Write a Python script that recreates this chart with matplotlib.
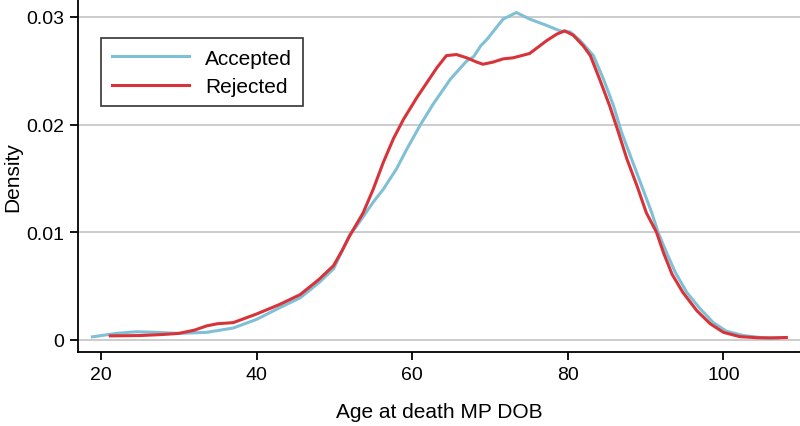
"""
Kernel density of age at death, accepted vs rejected
"""
import matplotlib
matplotlib.use('Agg')
import matplotlib.pyplot as plt

accepted_age = [18.9, 22, 24.5, 27, 30, 33.6, 37, 40, 43, 45.6, 48, 49.9, 52.0, 52.9,
                55.0, 56.3, 58.0, 59.3, 61.0, 62.7, 64.9, 67.0, 67.9, 68.8, 69.6,
                71.7, 73.4, 75.1, 77.3, 79.0, 80.3, 81.6, 83.3, 84.6, 85.9, 86.9,
                88.2, 89.5, 90.8, 91.6, 92.7, 93.8, 95.3, 97.0, 98.7, 100.4, 102.6,
                105, 107]
accepted_density = [0.00028, 0.0006, 0.00075, 0.0007, 0.0006, 0.0007, 0.0011, 0.0019,
                    0.0030, 0.0039, 0.0053, 0.0066, 0.0098, 0.0106, 0.0128, 0.0140,
                    0.0159, 0.0177, 0.0199, 0.0219, 0.0242, 0.0259, 0.0263, 0.0273,
                    0.0279, 0.0298, 0.0304, 0.0298, 0.0292, 0.0287, 0.0286, 0.0278,
                    0.0264, 0.0242, 0.0217, 0.0193, 0.0168, 0.0143, 0.0118, 0.0100,
                    0.0081, 0.0063, 0.0044, 0.0029, 0.0016, 0.0008, 0.0004, 0.0002,
                    0.00015]

rejected_age = [21.2, 25, 28, 30, 32, 33.6, 35, 37, 40, 43, 45.6, 48, 49.9, 51, 52.0,
                53.7, 55.0, 56.3, 57.6, 58.9, 60.6, 61.9, 63.2, 64.4, 65.7, 67.0,
                68.3, 69.1, 70.4, 71.7, 73.0, 75.1, 77.3, 78.6, 79.6, 80.7, 82.0,
                82.9, 84.1, 85.4, 86.5, 87.6, 88.9, 90.1, 91.4, 92.3, 93.4, 94.8,
                96.6, 98.3, 100.0, 102.1, 104.3, 106, 108.1]
rejected_density = [0.00037, 0.0004, 0.0005, 0.0006, 0.0009, 0.0013, 0.0015, 0.0016,
                    0.0024, 0.0033, 0.0042, 0.0056, 0.0069, 0.0083, 0.0097, 0.0118,
                    0.0140, 0.0165, 0.0187, 0.0205, 0.0225, 0.0239, 0.0253, 0.0264,
                    0.0265, 0.0262, 0.0258, 0.0256, 0.0258, 0.0261, 0.0262, 0.0266,
                    0.0278, 0.0284, 0.0287, 0.0283, 0.0273, 0.0264, 0.0242, 0.0217,
                    0.0193, 0.0168, 0.0143, 0.0118, 0.0100, 0.0081, 0.0061, 0.0044,
                    0.0027, 0.0015, 0.0007, 0.0003, 0.0002, 0.00018, 0.00022]

x_ticks = [20, 40, 60, 80, 100]
y_ticks = [0, 0.01, 0.02, 0.03]
y_labels = ['0', '0.01', '0.02', '0.03']


def main():
    plt.rcParams['font.family'] = ['Liberation Sans', 'DejaVu Sans']
    fig = plt.figure(figsize=(8, 4.27), dpi=100)
    ax = fig.add_axes([0.0975, 0.173, 0.9025, 0.827])

    for y in y_ticks:
        ax.axhline(y, color='#c8c8c8', lw=1.3, zorder=0)

    ax.plot(accepted_age, accepted_density, color='#80c0d6', lw=2.2, label='Accepted')
    ax.plot(rejected_age, rejected_density, color='#d73338', lw=2.2, label='Rejected')

    ax.set_xlim(17.05, 109.85)
    ax.set_ylim(-0.00114, 0.03166)
    ax.set_xticks(x_ticks)
    ax.set_yticks(y_ticks)
    ax.set_yticklabels(y_labels)
    ax.tick_params(labelsize=14, length=6, width=1.3, pad=4)
    for side in ('top', 'right'):
        ax.spines[side].set_visible(False)
    for side in ('left', 'bottom'):
        ax.spines[side].set_linewidth(1.3)

    ax.set_xlabel('Age at death MP DOB', fontsize=15, labelpad=14)
    ax.set_ylabel('Density', fontsize=15, labelpad=3)

    leg = ax.legend(loc='upper left', bbox_to_anchor=(0.032, 0.889), fontsize=15,
                    frameon=True, fancybox=False, handlelength=3.7, handletextpad=0.8,
                    borderpad=0.5, labelspacing=0.45, borderaxespad=0)
    leg.get_frame().set_edgecolor('black')
    leg.get_frame().set_linewidth(1.2)

    fig.savefig('out.png', dpi=100)
    plt.close(fig)


if __name__ == "__main__":
    main()
